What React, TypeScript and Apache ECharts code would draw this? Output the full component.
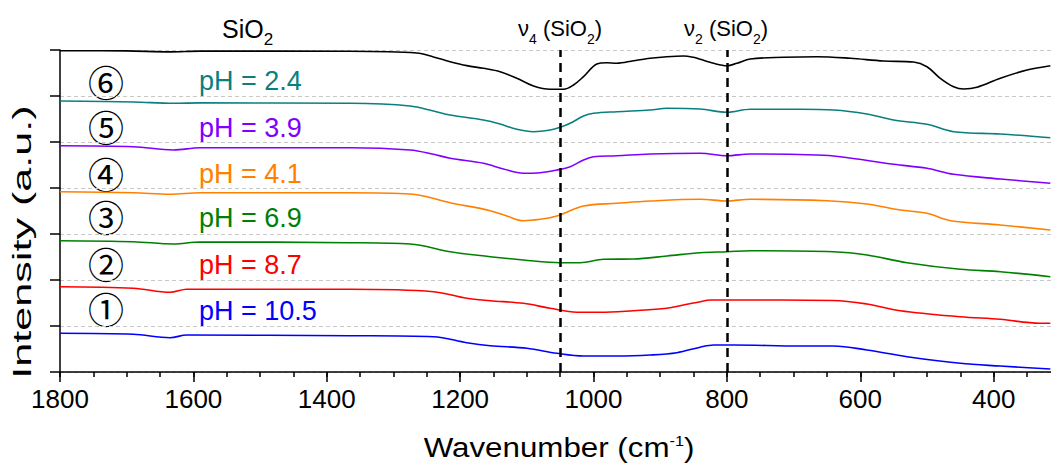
import React, { useEffect, useRef } from 'react';
import * as echarts from 'echarts';

const FONT = 'Liberation Sans, Arial, Helvetica, sans-serif';
const CIRCLED = 'Noto Sans CJK JP, Noto Sans CJK SC, sans-serif';

// Wavenumber axis ticks (cm-1)
const majorTicks = [1800, 1600, 1400, 1200, 1000, 800, 600, 400];
const minorTicks = [
  1800, 1750, 1700, 1650, 1600, 1550, 1500, 1450, 1400, 1350, 1300, 1250, 1200, 1150,
  1100, 1050, 1000, 950, 900, 850, 800, 750, 700, 650, 600, 550, 500, 450, 400, 350,
];

// Band positions marked with dashed lines
const bandLines = [1050, 800];

// Stacked FTIR spectra: [wavenumber, offset intensity]
const sio2Ref = [
  [1800, 6.985], [1700, 6.98], [1635, 6.96], [1590, 6.975], [1365, 6.972], [1265, 6.935],
  [1240, 6.85], [1215, 6.746], [1190, 6.66], [1165, 6.602], [1140, 6.528], [1115, 6.385],
  [1090, 6.217], [1065, 6.146], [1045, 6.146], [1030, 6.239], [1015, 6.42], [995, 6.696],
  [980, 6.724], [965, 6.711], [940, 6.767], [915, 6.82], [890, 6.854], [865, 6.87],
  [850, 6.841], [840, 6.798], [820, 6.711], [800, 6.659], [785, 6.711], [765, 6.804],
  [715, 6.841], [665, 6.854], [615, 6.82], [565, 6.761], [520, 6.739], [500, 6.637],
  [480, 6.385], [460, 6.202], [445, 6.152], [425, 6.189], [390, 6.385], [350, 6.565],
  [315, 6.659],
];
const ph24 = [
  [1800, 5.891], [1690, 5.87], [1630, 5.841], [1590, 5.85], [1365, 5.841], [1275, 5.783],
  [1240, 5.674], [1215, 5.587], [1165, 5.478], [1140, 5.391], [1115, 5.276], [1090, 5.224],
  [1065, 5.261], [1050, 5.32], [1035, 5.407], [1015, 5.565], [1000, 5.624], [965, 5.659],
  [915, 5.696], [890, 5.733], [840, 5.717], [800, 5.646], [765, 5.711], [690, 5.711],
  [640, 5.696], [590, 5.609], [550, 5.478], [500, 5.385], [460, 5.224], [390, 5.174],
  [315, 5.093],
];
const ph39 = [
  [1800, 4.92], [1690, 4.898], [1630, 4.826], [1590, 4.876], [1365, 4.876], [1275, 4.826],
  [1240, 4.733], [1215, 4.646], [1165, 4.537], [1135, 4.413], [1105, 4.32], [1080, 4.333],
  [1055, 4.391], [1035, 4.463], [1015, 4.609], [1000, 4.68], [965, 4.702], [915, 4.739],
  [840, 4.754], [800, 4.702], [765, 4.739], [665, 4.717], [630, 4.68], [550, 4.515],
  [500, 4.428], [460, 4.298], [390, 4.196], [315, 4.102],
];
const ph41 = [
  [1800, 3.92], [1690, 3.898], [1635, 3.863], [1590, 3.898], [1365, 3.898], [1275, 3.87],
  [1215, 3.68], [1155, 3.507], [1130, 3.391], [1105, 3.289], [1080, 3.32], [1055, 3.391],
  [1015, 3.609], [965, 3.667], [915, 3.717], [840, 3.754], [800, 3.717], [765, 3.754],
  [650, 3.724], [590, 3.652], [540, 3.522], [500, 3.45], [465, 3.289], [390, 3.196],
  [315, 3.087],
];
const ph69 = [
  [1800, 2.854], [1690, 2.833], [1630, 2.783], [1590, 2.826], [1365, 2.811], [1275, 2.783],
  [1215, 2.615], [1155, 2.507], [1105, 2.435], [1050, 2.376], [1020, 2.376], [985, 2.45],
  [940, 2.457], [890, 2.522], [840, 2.593], [800, 2.615], [765, 2.637], [640, 2.615],
  [590, 2.543], [530, 2.376], [450, 2.233], [390, 2.18], [315, 2.072],
];
const ph87 = [
  [1800, 1.854], [1690, 1.82], [1635, 1.733], [1610, 1.798], [1365, 1.798], [1240, 1.746],
  [1190, 1.602], [1155, 1.55], [1105, 1.493], [1065, 1.385], [1025, 1.298], [990, 1.298],
  [940, 1.333], [890, 1.385], [865, 1.457], [840, 1.528], [825, 1.565], [800, 1.565],
  [640, 1.554], [590, 1.478], [540, 1.333], [450, 1.202], [390, 1.146], [330, 1.059],
  [315, 1.059],
];
const ph105 = [
  [1800, 0.841], [1690, 0.82], [1635, 0.746], [1610, 0.804], [1365, 0.789], [1240, 0.767],
  [1190, 0.637], [1155, 0.572], [1100, 0.515], [1055, 0.407], [1015, 0.348], [965, 0.348],
  [915, 0.37], [875, 0.42], [840, 0.54], [820, 0.587], [790, 0.587], [690, 0.565],
  [640, 0.565], [590, 0.478], [530, 0.333], [450, 0.189], [390, 0.13], [315, 0.065],
];

const seriesNames = ['SiO2', 'pH = 2.4', 'pH = 3.9', 'pH = 4.1', 'pH = 6.9', 'pH = 8.7', 'pH = 10.5'];
const seriesData = [sio2Ref, ph24, ph39, ph41, ph69, ph87, ph105];
const seriesColors = ['#000000', '#0a7f7f', '#8000ff', '#ff8000', '#008000', '#ff0000', '#0000ff'];

// Sample labels (circled index + pH), top to bottom
const sampleIndex = ['⑥', '⑤', '④', '③', '②', '①'];
const sampleLabels = ['pH = 2.4', 'pH = 3.9', 'pH = 4.1', 'pH = 6.9', 'pH = 8.7', 'pH = 10.5'];
const sampleColors = ['#0a7f7f', '#8000ff', '#ff8000', '#008000', '#ff0000', '#0000ff'];

export default function App() {
  const ref = useRef<HTMLDivElement>(null);

  useEffect(() => {
    const chart = echarts.init(ref.current!, null, { renderer: 'svg' });

    const labelRowsY = [81, 127.5, 174, 218, 264.5, 310.5];
    const circleRowsY = [81, 126, 172.5, 216, 263, 308];

    const graphic: any[] = [];
    sampleIndex.forEach((t, i) => {
      graphic.push({
        type: 'text',
        x: 106,
        y: circleRowsY[i],
        style: {
          text: t,
          fontFamily: CIRCLED,
          fontSize: 36,
          lineHeight: 36,
          fill: '#000',
          align: 'center',
          verticalAlign: 'middle',
        },
      });
    });
    sampleLabels.forEach((t, i) => {
      graphic.push({
        type: 'text',
        x: 199,
        y: labelRowsY[i],
        style: {
          text: t,
          fontFamily: FONT,
          fontSize: 27,
          fill: sampleColors[i],
          align: 'left',
          verticalAlign: 'middle',
        },
      });
    });

    const subRich = {
      sub: { fontFamily: FONT, fontSize: 14, padding: [21, 0, 0, 0], fill: '#000' },
    };
    graphic.push(
      {
        type: 'text',
        x: 222,
        y: 29,
        style: {
          text: 'SiO{big|2}',
          fontFamily: FONT,
          fontSize: 25,
          fill: '#000',
          align: 'left',
          verticalAlign: 'middle',
          rich: { big: { fontFamily: FONT, fontSize: 17, padding: [20, 0, 0, 0], fill: '#000' } },
        },
      },
      {
        type: 'text',
        x: 518,
        y: 28.5,
        style: {
          text: 'ν{sub|4} (SiO{sub|2})',
          fontFamily: FONT,
          fontSize: 22,
          fill: '#000',
          align: 'left',
          verticalAlign: 'middle',
          rich: subRich,
        },
      },
      {
        type: 'text',
        x: 684,
        y: 28.5,
        style: {
          text: 'ν{sub|2} (SiO{sub|2})',
          fontFamily: FONT,
          fontSize: 22,
          fill: '#000',
          align: 'left',
          verticalAlign: 'middle',
          rich: subRich,
        },
      },
      {
        type: 'text',
        x: 559,
        y: 448,
        scaleX: 1.16,
        style: {
          text: 'Wavenumber (cm{sup|-1})',
          fontFamily: FONT,
          fontSize: 27,
          fill: '#000',
          align: 'center',
          verticalAlign: 'middle',
          rich: { sup: { fontFamily: FONT, fontSize: 14, padding: [0, 0, 14, 0], fill: '#000' } },
        },
      },
      {
        type: 'text',
        x: 22,
        y: 242,
        rotation: Math.PI / 2,
        scaleX: 1.66,
        style: {
          text: 'Intensity (a.u.)',
          fontFamily: FONT,
          fontSize: 26,
          fill: '#000',
          align: 'center',
          verticalAlign: 'middle',
        },
      }
    );

    const series: any[] = seriesData.map((d, i) => ({
      name: seriesNames[i],
      type: 'line',
      data: d,
      showSymbol: false,
      smooth: 0.35,
      lineStyle: { color: seriesColors[i], width: 1.6 },
      itemStyle: { color: seriesColors[i] },
      z: 3,
    }));
    series[0].markLine = {
      silent: true,
      symbol: ['none', 'none'],
      label: { show: false },
      lineStyle: { color: '#000', width: 2.5, type: [9, 6] },
      data: bandLines.map((v) => ({ xAxis: v })),
      z: 5,
    };

    const axisBase = {
      type: 'value',
      inverse: true,
      min: 314,
      max: 1800,
    };

    chart.setOption({
      animation: false,
      backgroundColor: '#fff',
      grid: { left: 60, right: 0, top: 50, bottom: 92, containLabel: false },
      xAxis: [
        {
          ...axisBase,
          axisLine: { show: true, lineStyle: { color: '#000', width: 1.5 } },
          axisTick: {
            show: true,
            customValues: majorTicks,
            length: 10,
            inside: false,
            lineStyle: { color: '#000', width: 1.5 },
          },
          axisLabel: {
            show: true,
            customValues: majorTicks,
            formatter: (v: number) => String(v),
            fontFamily: FONT,
            fontSize: 26,
            color: '#000',
            margin: 14,
          },
          splitLine: { show: false },
        },
        {
          ...axisBase,
          position: 'bottom',
          axisLine: { show: false },
          axisTick: {
            show: true,
            customValues: minorTicks,
            length: 5,
            inside: false,
            lineStyle: { color: '#000', width: 1.5 },
          },
          axisLabel: { show: false },
          splitLine: { show: false },
        },
      ],
      yAxis: {
        type: 'value',
        min: 0,
        max: 7,
        interval: 1,
        axisLine: { show: true, lineStyle: { color: '#000', width: 1.5 } },
        axisTick: { show: true, length: 10, lineStyle: { color: '#000', width: 1.5 } },
        axisLabel: { show: false },
        splitLine: { show: true, lineStyle: { color: '#c8c8c8', width: 1, type: [4, 3] } },
      },
      graphic,
      series,
    });

    return () => chart.dispose();
  }, []);

  return (
    <div
      ref={ref}
      style={{ position: 'fixed', left: 0, top: 0, width: 1051, height: 464, background: '#fff' }}
    />
  );
}
